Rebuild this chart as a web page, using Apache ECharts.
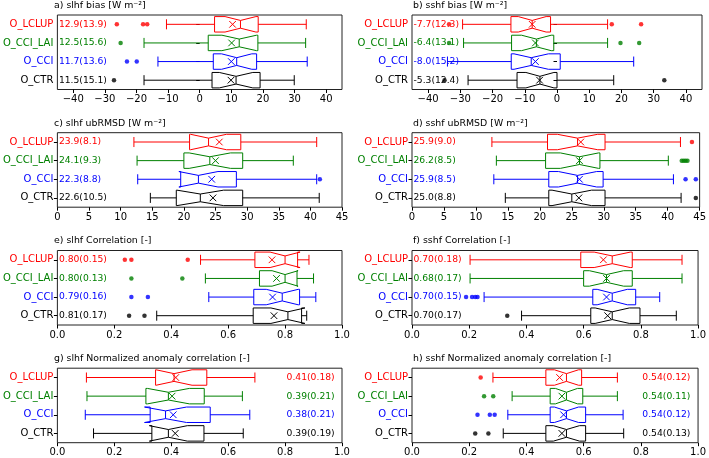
<!DOCTYPE html>
<html><head><meta charset="utf-8">
<script src="https://cdn.jsdelivr.net/npm/echarts@6/dist/echarts.min.js"></script>
<style>html,body{margin:0;padding:0;background:#fff}#c{width:709px;height:458px}</style>
</head><body><div id="c"></div>
<script>
// ---------- data ----------
const categories = ['O_LCLUP', 'O_CCI_LAI', 'O_CCI', 'O_CTR'];
const ticksBias = [-40, -30, -20, -10, 0, 10, 20, 30, 40];
const ticksRmsd = [0, 5, 10, 15, 20, 25, 30, 35, 40, 45];
const ticksCorr = [0, 0.2, 0.4, 0.6, 0.8, 1.0];
const NOTCH_N = 20; // sample size used by the notch (1.57*IQR/sqrt(N))

// a) slhf bias
const aWlo  = [-10.5, -17.6, -13.2, -17.6];
const aQ1   = [4.7, 2.7, 4.3, 3.9];
const aMed  = [12.9, 12.5, 11.7, 11.5];
const aQ3   = [18.5, 18.4, 18.0, 19.1];
const aWhi  = [33.7, 33.5, 34.0, 29.9];
const aMean = [10.4, 10.1, 10.0, 9.9];
const aIqr  = [13.9, 15.6, 13.6, 15.1];
const aOut  = [[-26.2, -17.9, -16.6], [-25.0], [-23.0, -19.9], [-27.1]];

// b) sshf bias
const bWlo  = [-29.3, -29.0, -34.0, -27.6];
const bQ1   = [-14.3, -14.1, -14.2, -12.4];
const bMed  = [-7.7, -6.4, -8.0, -5.3];
const bQ3   = [-2.0, -1.0, 1.0, 0.0];
const bWhi  = [15.7, 15.7, 23.8, 17.6];
const bMean = [-7.7, -6.7, -6.7, -5.4];
const bIqr  = [12.3, 13.1, 15.2, 12.4];
const bOut  = [[-33.5, 17.0, 26.1], [-33.5, 19.7, 25.5], [], [-34.9, 33.3]];

// c) slhf ubRMSD
const cWlo  = [12.1, 12.6, 12.7, 14.7];
const cQ1   = [20.9, 20.0, 19.5, 18.8];
const cMed  = [23.9, 24.1, 22.3, 22.6];
const cQ3   = [29.0, 29.3, 28.3, 29.3];
const cWhi  = [41.0, 37.3, 41.0, 41.4];
const cMean = [25.6, 25.0, 24.4, 24.6];
const cIqr  = [8.1, 9.3, 8.8, 10.5];
const cOut  = [[], [], [41.5], []];

// d) sshf ubRMSD
const dWlo  = [12.5, 13.2, 12.8, 14.6];
const dQ1   = [21.2, 20.9, 21.4, 21.4];
const dMed  = [25.9, 26.2, 25.9, 25.0];
const dQ3   = [30.2, 29.4, 29.9, 30.2];
const dWhi  = [42.0, 40.1, 40.9, 42.1];
const dMean = [26.4, 26.2, 26.2, 26.1];
const dIqr  = [9.0, 8.5, 8.5, 8.8];
const dOut  = [[43.8], [42.2, 42.5, 42.8, 43.1], [42.8, 44.4], [44.4]];

// e) slhf Correlation
const eWlo  = [0.503, 0.52, 0.532, 0.349];
const eQ1   = [0.694, 0.71, 0.69, 0.688];
const eMed  = [0.80, 0.80, 0.79, 0.81];
const eQ3   = [0.844, 0.842, 0.851, 0.858];
const eWhi  = [0.884, 0.90, 0.908, 0.876];
const eMean = [0.754, 0.77, 0.756, 0.761];
const eIqr  = [0.15, 0.13, 0.16, 0.17];
const eOut  = [[0.237, 0.26, 0.458], [0.26, 0.439], [0.26, 0.318], [0.252, 0.306]];

// f) sshf Correlation
const fWlo  = [0.203, 0.203, 0.252, 0.383];
const fQ1   = [0.59, 0.60, 0.632, 0.625];
const fMed  = [0.70, 0.68, 0.70, 0.70];
const fQ3   = [0.77, 0.77, 0.782, 0.797];
const fWhi  = [0.944, 0.944, 0.866, 0.924];
const fMean = [0.669, 0.68, 0.68, 0.684];
const fIqr  = [0.18, 0.17, 0.15, 0.17];
const fOut  = [[], [], [0.189, 0.21, 0.221, 0.229], [0.333]];

// g) slhf Normalized anomaly correlation
const gWlo  = [0.102, 0.104, 0.098, 0.127];
const gQ1   = [0.345, 0.311, 0.326, 0.332];
const gMed  = [0.41, 0.39, 0.38, 0.39];
const gQ3   = [0.525, 0.516, 0.537, 0.515];
const gWhi  = [0.694, 0.65, 0.676, 0.653];
const gMean = [0.416, 0.403, 0.407, 0.414];
const gIqr  = [0.18, 0.21, 0.21, 0.19];
const gOut  = [[], [], [], []];

// h) sshf Normalized anomaly correlation
const hWlo  = [0.283, 0.35, 0.335, 0.319];
const hQ1   = [0.468, 0.483, 0.483, 0.468];
const hMed  = [0.54, 0.54, 0.54, 0.54];
const hQ3   = [0.593, 0.597, 0.607, 0.607];
const hWhi  = [0.718, 0.718, 0.738, 0.74];
const hMean = [0.516, 0.524, 0.53, 0.524];
const hIqr  = [0.12, 0.11, 0.12, 0.13];
const hOut  = [[0.24], [0.252, 0.284], [0.229, 0.272, 0.289], [0.221, 0.267]];

// ---------- styling / layout ----------
const catColors = ['#ff0000', '#008000', '#0000ff', '#000000'];
const FONT = 'DejaVu Sans';
const colL = 53, colR = 412, wL = 289, wR = 290, gh = 74.5;
const rows = [15, 132.7, 250.5, 368.2];

const fmtBias = v => (v < 0 ? '\u2212' : '') + Math.abs(v);
const fmtInt = v => String(v);
const fmtCorr = v => Number(v).toFixed(1);

const panels = [
  {t: 'a) slhf bias [W m\u207B\u00B2]', L: colL, W: wL, T: rows[0], min: -45, max: 45, ticks: ticksBias, fmt: fmtBias, dec: 1, lx: -45,
   d: [aWlo, aQ1, aMed, aQ3, aWhi, aMean, aIqr], out: aOut},
  {t: 'b) sshf bias [W m\u207B\u00B2]', L: colR, W: wR, T: rows[0], min: -45, max: 45, ticks: ticksBias, fmt: fmtBias, dec: 1, lx: -45,
   d: [bWlo, bQ1, bMed, bQ3, bWhi, bMean, bIqr], out: bOut},
  {t: 'c) slhf ubRMSD [W m\u207B\u00B2]', L: colL, W: wL, T: rows[1], min: 0, max: 45, ticks: ticksRmsd, fmt: fmtInt, dec: 1, lx: 0,
   d: [cWlo, cQ1, cMed, cQ3, cWhi, cMean, cIqr], out: cOut},
  {t: 'd) sshf ubRMSD [W m\u207B\u00B2]', L: colR, W: wR, T: rows[1], min: 0, max: 45, ticks: ticksRmsd, fmt: fmtInt, dec: 1, lx: 0,
   d: [dWlo, dQ1, dMed, dQ3, dWhi, dMean, dIqr], out: dOut},
  {t: 'e) slhf Correlation [-]', L: colL, W: wL, T: rows[2], min: 0, max: 1, ticks: ticksCorr, fmt: fmtCorr, dec: 2, lx: 0,
   d: [eWlo, eQ1, eMed, eQ3, eWhi, eMean, eIqr], out: eOut},
  {t: 'f) sshf Correlation [-]', L: colR, W: wR, T: rows[2], min: 0, max: 1, ticks: ticksCorr, fmt: fmtCorr, dec: 2, lx: 0,
   d: [fWlo, fQ1, fMed, fQ3, fWhi, fMean, fIqr], out: fOut},
  {t: 'g) slhf Normalized anomaly correlation [-]', L: colL, W: wL, T: rows[3], min: 0, max: 1, ticks: ticksCorr, fmt: fmtCorr, dec: 2, lx: 0.8,
   d: [gWlo, gQ1, gMed, gQ3, gWhi, gMean, gIqr], out: gOut},
  {t: 'h) sshf Normalized anomaly correlation [-]', L: colR, W: wR, T: rows[3], min: 0, max: 1, ticks: ticksCorr, fmt: fmtCorr, dec: 2, lx: 0.8,
   d: [hWlo, hQ1, hMed, hQ3, hWhi, hMean, hIqr], out: hOut}
];

function makeRender(p) {
  return function (params, api) {
    const cat = api.value(0);
    const wlo = api.value(1), q1 = api.value(2), med = api.value(3), q3 = api.value(4),
          whi = api.value(5), mean = api.value(6), iqr = api.value(7);
    const notch = 1.57 * iqr / Math.sqrt(NOTCH_N);
    const col = catColors[cat];
    const X = v => api.coord([v, cat])[0];
    const y = api.coord([med, cat])[1];
    const band = api.size([0, 1])[1];
    const hw = band * 0.415, nh = hw / 2, cap = hw * 0.65, mk = 3.3;
    const xq1 = X(q1), xq3 = X(q3), xm = X(med), xnl = X(med - notch), xnh = X(med + notch),
          xwl = X(wlo), xwh = X(whi), xmn = X(mean);
    const st = {stroke: col, lineWidth: 1, fill: 'none'};
    const ln = (x1, y1, x2, y2) => ({type: 'line', shape: {x1, y1, x2, y2}, style: st});
    const pts = [[xq1, y - hw], [xnl, y - hw], [xm, y - nh], [xnh, y - hw], [xq3, y - hw],
                 [xq3, y + hw], [xnh, y + hw], [xm, y + nh], [xnl, y + hw], [xq1, y + hw]];
    const label = med.toFixed(p.dec) + '(' + iqr.toFixed(p.dec) + ')';
    return {
      type: 'group',
      children: [
        {type: 'text', x: X(p.lx) + 1.5, y: y, style: {text: label, fill: col, font: '9.2px "' + FONT + '"', align: 'left', verticalAlign: 'middle'}},
        ln(xwl, y, xq1, y), ln(xq3, y, xwh, y),
        ln(xwl, y - cap, xwl, y + cap), ln(xwh, y - cap, xwh, y + cap),
        {type: 'polygon', shape: {points: pts}, style: {stroke: col, lineWidth: 1, fill: 'none'}},
        ln(xm, y - nh, xm, y + nh),
        ln(xmn - mk, y - mk, xmn + mk, y + mk), ln(xmn - mk, y + mk, xmn + mk, y - mk)
      ]
    };
  };
}

const option = {
  animation: false,
  backgroundColor: '#fff',
  title: [], grid: [], xAxis: [], yAxis: [], series: []
};

panels.forEach((p, i) => {
  option.title.push({text: p.t, left: p.L + 1, top: p.T - 14, padding: 0,
    textStyle: {fontSize: 9.4, fontWeight: 'normal', color: '#000', fontFamily: FONT}});
  option.grid.push({left: p.L, top: p.T, width: p.W, height: gh, show: true,
    borderColor: '#222', borderWidth: 1, containLabel: false});
  option.xAxis.push({type: 'value', gridIndex: i, min: p.min, max: p.max,
    axisLine: {show: false}, splitLine: {show: false},
    axisTick: {show: true, length: 3.5, lineStyle: {color: '#000'}, customValues: p.ticks},
    axisLabel: {customValues: p.ticks, formatter: p.fmt, fontSize: 10, color: '#000', fontFamily: FONT, margin: 5}});
  option.yAxis.push({type: 'category', gridIndex: i, inverse: true, data: categories,
    axisLine: {show: false}, splitLine: {show: false},
    axisTick: {show: true, alignWithLabel: true, length: 3.5, lineStyle: {color: '#000'}},
    axisLabel: {fontSize: 10, fontFamily: FONT, margin: 4, color: (v, idx) => catColors[idx]}});
  const rowsData = categories.map((c, k) => [k].concat(p.d.map(arr => arr[k])));
  option.series.push({type: 'custom', xAxisIndex: i, yAxisIndex: i, renderItem: makeRender(p),
    encode: {x: [1, 2, 3, 4, 5, 6], y: 0}, data: rowsData, z: 2});
  const outData = [];
  p.out.forEach((arr, k) => arr.forEach(v => outData.push([v, k])));
  option.series.push({type: 'scatter', xAxisIndex: i, yAxisIndex: i, symbol: 'circle', symbolSize: 4.5,
    itemStyle: {color: prm => catColors[prm.value[1]]}, data: outData, z: 3});
});

const chart = echarts.init(document.getElementById('c'), null, {renderer: 'canvas'});
chart.setOption(option);
</script>
</body></html>
